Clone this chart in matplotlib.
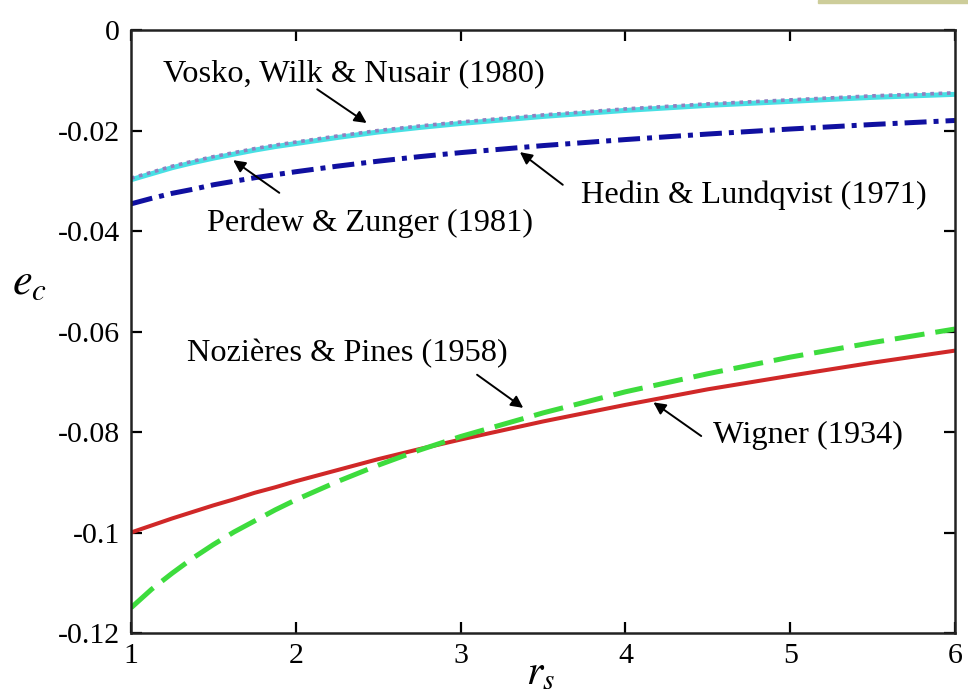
#!/usr/bin/env python3
"""
Correlation energy of the homogeneous electron gas vs r_s
for several classic parametrisations (values read off the figure).
"""

import matplotlib
matplotlib.use('Agg')
import matplotlib.pyplot as plt
from matplotlib.patches import Rectangle

# ---------------------------------------------------------------------------
# Data (e_c)
# ---------------------------------------------------------------------------
RS = [1.0, 1.125, 1.25, 1.375, 1.5, 1.625, 1.75, 1.875, 2.0,
      2.25, 2.5, 2.75, 3.0, 3.5, 4.0, 4.5, 5.0, 5.5, 6.0]

WIGNER = [-0.1000, -0.0986, -0.0972, -0.0959, -0.0946, -0.0934, -0.0921, -0.0910, -0.0898,
          -0.0876, -0.0854, -0.0834, -0.0815, -0.0779, -0.0746, -0.0715, -0.0688, -0.0662, -0.0638]
NOZIERES_PINES = [-0.1150, -0.1113, -0.1081, -0.1051, -0.1024, -0.0999, -0.0977, -0.0955, -0.0935,
                  -0.0899, -0.0866, -0.0836, -0.0809, -0.0762, -0.0720, -0.0684, -0.0651, -0.0622, -0.0595]
HEDIN_LUNDQVIST = [-0.0346, -0.0335, -0.0325, -0.0317, -0.0308, -0.0301, -0.0294, -0.0288, -0.0282,
                   -0.0271, -0.0261, -0.0252, -0.0244, -0.0230, -0.0218, -0.0207, -0.0197, -0.0188, -0.0180]
PERDEW_ZUNGER = [-0.0298, -0.0286, -0.0274, -0.0264, -0.0255, -0.0247, -0.0239, -0.0232, -0.0226,
                 -0.0214, -0.0203, -0.0194, -0.0186, -0.0172, -0.0160, -0.0150, -0.0142, -0.0134, -0.0128]
VOSKO_WILK_NUSAIR = [-0.0295, -0.0283, -0.0271, -0.0261, -0.0252, -0.0244, -0.0236, -0.0229, -0.0223,
                     -0.0211, -0.0200, -0.0191, -0.0183, -0.0169, -0.0157, -0.0147, -0.0139, -0.0131, -0.0125]

X_TICKS = [1, 2, 3, 4, 5, 6]
Y_TICKS = [0, -0.02, -0.04, -0.06, -0.08, -0.1, -0.12]
Y_TICK_LABELS = ['0', '-0.02', '-0.04', '-0.06', '-0.08', '-0.1', '-0.12']

# (label, text position, arrow start, arrow tip) in data coords
ANNOTATIONS = [
    ('Vosko, Wilk & Nusair (1980)', (2.35, -0.0086), (2.13, -0.0118), (2.43, -0.0185)),
    ('Perdew & Zunger (1981)', (2.45, -0.0384), (1.90, -0.0324), (1.62, -0.0259)),
    ('Hedin & Lundqvist (1971)', (4.78, -0.0328), (3.62, -0.0308), (3.36, -0.0243)),
    ('Nozières & Pines (1958)', (2.31, -0.0643), (3.10, -0.0686), (3.38, -0.0752)),
    ('Wigner (1934)', (5.11, -0.0806), (4.46, -0.0808), (4.17, -0.0741)),
]


def main():
    plt.rcParams['font.family'] = ['Liberation Serif', 'DejaVu Serif']
    plt.rcParams['mathtext.fontset'] = 'stix'

    fig = plt.figure(figsize=(9.68, 6.95), dpi=100)
    ax = fig.add_axes([0.1353, 0.0892, 0.8513, 0.8676])

    # ------------------------------------------------------------------
    # Curves
    # ------------------------------------------------------------------
    ax.plot(RS, WIGNER, color='#d02828', lw=2.9, solid_capstyle='butt')
    ax.plot(RS, NOZIERES_PINES, color='#3ddc3d', lw=3.6, dashes=(6, 2.2))
    ax.plot(RS, HEDIN_LUNDQVIST, color='#1010a0', lw=3.6,
            dashes=(4.4, 1.4, 1.0, 1.4))
    ax.plot(RS, PERDEW_ZUNGER, color='#48e0e4', lw=3.6)
    ax.plot(RS, VOSKO_WILK_NUSAIR, color='#9080c0', lw=2.6, dashes=(1.0, 1.3))

    # ------------------------------------------------------------------
    # Labels with arrows
    # ------------------------------------------------------------------
    for label, txt_pos, start, tip in ANNOTATIONS:
        ax.text(txt_pos[0], txt_pos[1], label, fontsize=23.3,
                ha='center', va='center')
        ax.annotate('', xy=tip, xytext=start,
                    arrowprops=dict(arrowstyle='-|>', color='black', lw=1.4,
                                    mutation_scale=18, shrinkA=0, shrinkB=0))

    # ------------------------------------------------------------------
    # Axes
    # ------------------------------------------------------------------
    ax.set_xlim(1, 6)
    ax.set_ylim(-0.12, 0)
    ax.set_xticks(X_TICKS)
    ax.set_yticks(Y_TICKS)
    ax.set_yticklabels(Y_TICK_LABELS)
    ax.tick_params(direction='in', length=8, width=1.6, labelsize=21.5,
                   top=True, right=True)
    ax.tick_params(axis='x', pad=7)
    ax.tick_params(axis='y', pad=8)
    for sp in ax.spines.values():
        sp.set_linewidth(1.8)
        sp.set_color('#222222')

    ax.set_xlabel(r'$r_s$', fontsize=30)
    ax.xaxis.set_label_coords(0.497, -0.036)
    ax.set_ylabel(r'$e_c$', fontsize=32, rotation=0, ha='center', va='center')
    ax.yaxis.set_label_coords(-0.123, 0.58)

    # small tan strip at the top right corner of the original picture
    fig.patches.append(Rectangle((818 / 968, 1 - 3 / 695), 150 / 968, 3 / 695,
                                 transform=fig.transFigure, color='#cdcd9a',
                                 zorder=0))

    fig.savefig('out.png', dpi=100)
    plt.close(fig)


if __name__ == "__main__":
    main()
